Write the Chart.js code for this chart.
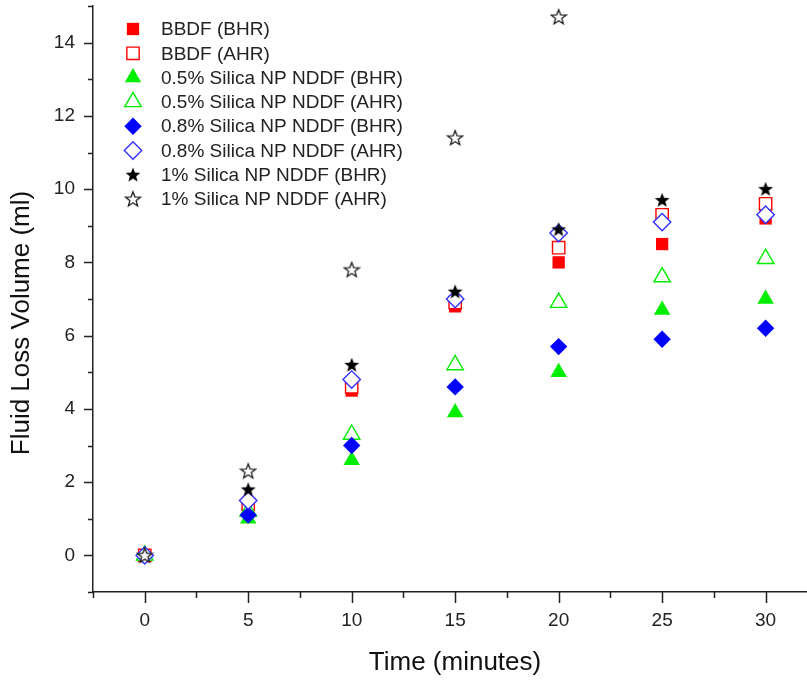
<!DOCTYPE html>
<html>
<head>
<meta charset="utf-8">
<script src="https://cdn.jsdelivr.net/npm/chart.js@4"></script>
<style>
  html, body { margin: 0; padding: 0; background: #fff; }
  #wrap { width: 807px; height: 680px; }
</style>
</head>
<body>
<div id="wrap"><canvas id="fluidChart" width="807" height="680"></canvas></div>
<script>
// data
const times = [0, 5, 10, 15, 20, 25, 30];
const bbdfBHR = [0, 1.3, 4.5, 6.8, 8.0, 8.5, 9.2];
const bbdfAHR = [0, 1.4, 4.6, 6.9, 8.4, 9.3, 9.6];
const silica05BHR = [0, 1.0, 2.6, 3.9, 5.0, 6.7, 7.0];
const silica05AHR = [0, 1.2, 3.3, 5.2, 6.9, 7.6, 8.1];
const silica08BHR = [0, 1.1, 3.0, 4.6, 5.7, 5.9, 6.2];
const silica08AHR = [0, 1.5, 4.8, 7.0, 8.8, 9.1, 9.3];
const silica1BHR = [0, 1.8, 5.2, 7.2, 8.9, 9.7, 10.0];
const silica1AHR = [0, 2.3, 7.8, 11.4, 14.7, null, null]; // 25 & 30 min off the top

const seriesLabels = [
  'BBDF (BHR)', 'BBDF (AHR)',
  '0.5% Silica NP NDDF (BHR)', '0.5% Silica NP NDDF (AHR)',
  '0.8% Silica NP NDDF (BHR)', '0.8% Silica NP NDDF (AHR)',
  '1% Silica NP NDDF (BHR)', '1% Silica NP NDDF (AHR)'
];
const xTitle = 'Time (minutes)';
const yTitle = 'Fluid Loss Volume (ml)';

// 5 point star as a little canvas (chart.js 'star' is an asterisk)
function makeStar(filled) {
  const c = document.createElement('canvas');
  c.width = 18; c.height = 18;
  const g = c.getContext('2d');
  const R = 7.8, r = 3.3;
  g.beginPath();
  for (let i = 0; i < 10; i++) {
    const a = -Math.PI / 2 + i * Math.PI / 5;
    const rr = i % 2 === 0 ? R : r;
    const px = 9 + Math.cos(a) * rr, py = 9.5 + Math.sin(a) * rr;
    if (i === 0) g.moveTo(px, py); else g.lineTo(px, py);
  }
  g.closePath();
  if (filled) {
    g.fillStyle = '#000';
    g.fill();
  } else {
    g.fillStyle = '#fff';
    g.fill();
    g.lineWidth = 1.3;
    g.strokeStyle = '#222';
    g.stroke();
  }
  return c;
}
const starFilled = makeStar(true);
const starOpen = makeStar(false);

function pts(vals) {
  return times.map((t, i) => ({ x: t, y: vals[i] }));
}

const styles = [
  { vals: bbdfBHR, shape: 'rect', color: '#ff0000', filled: true, r: 8.7 },
  { vals: bbdfAHR, shape: 'rect', color: '#ff0000', filled: false, r: 8.7 },
  { vals: silica05BHR, shape: 'triangle', color: '#00ee00', filled: true, r: 9.5 },
  { vals: silica05AHR, shape: 'triangle', color: '#00ee00', filled: false, r: 9.5 },
  { vals: silica08BHR, shape: 'rectRot', color: '#0000ff', filled: true, r: 8.7 },
  { vals: silica08AHR, shape: 'rectRot', color: '#3030ff', filled: false, r: 8.7 },
  { vals: silica1BHR, shape: starFilled, color: '#000', filled: true, r: 8 },
  { vals: silica1AHR, shape: starOpen, color: '#222', filled: false, r: 8 }
];

const datasets = styles.map((s, i) => ({
  label: seriesLabels[i],
  data: pts(s.vals),
  pointStyle: s.shape,
  pointRadius: s.r,
  pointHoverRadius: s.r,
  backgroundColor: s.filled ? s.color : '#fff',
  borderColor: s.color,
  borderWidth: s.filled ? 0 : 1.4,
  showLine: false,
  order: 8 - i   // later series sit on top
}));

const FONT = '"Liberation Sans", Arial, sans-serif';

// tick marks (major + minor), axis titles and the legend inside the plot
const extras = {
  id: 'extras',
  afterDraw(chart) {
    const ctx = chart.ctx;
    const xs = chart.scales.x, ys = chart.scales.y;
    const area = chart.chartArea;
    ctx.save();
    ctx.strokeStyle = '#222';
    ctx.lineWidth = 1.5;
    ctx.beginPath();
    for (let v = -2.5; v <= xs.max + 0.01; v += 2.5) {
      const px = Math.round(xs.getPixelForValue(v)) + 0.5;
      const len = v % 5 === 0 ? 11 : 6;
      ctx.moveTo(px, area.bottom);
      ctx.lineTo(px, area.bottom + len);
    }
    for (let v = ys.min; v <= ys.max; v += 1) {
      const py = Math.round(ys.getPixelForValue(v)) + 0.5;
      const len = v % 2 === 0 ? 9 : 5;
      ctx.moveTo(area.left, py);
      ctx.lineTo(area.left - len, py);
    }
    ctx.stroke();

    // axis titles (origin put them a bit off centre)
    ctx.fillStyle = '#111';
    ctx.font = '26px ' + FONT;
    ctx.textAlign = 'center';
    ctx.textBaseline = 'middle';
    ctx.fillText(xTitle, 455, 663);
    ctx.save();
    ctx.translate(22, 323);
    ctx.rotate(-Math.PI / 2);
    ctx.fillText(yTitle, 0, 0);
    ctx.restore();

    // legend
    ctx.textAlign = 'left';
    ctx.font = '19px ' + FONT;
    chart.data.datasets.forEach((ds, i) => {
      const y = 29 + i * 24.3;
      const x = 133;
      if (typeof ds.pointStyle === 'string') {
        ctx.fillStyle = ds.backgroundColor;
        ctx.strokeStyle = ds.borderColor;
        ctx.lineWidth = ds.borderWidth;
        Chart.helpers.drawPoint(ctx, {
          pointStyle: ds.pointStyle, radius: ds.pointRadius, rotation: 0,
          borderWidth: ds.borderWidth
        }, x, y);
      } else {
        const img = ds.pointStyle;
        ctx.drawImage(img, x - img.width / 2, y - img.height / 2);
      }
      ctx.fillStyle = '#222';
      ctx.fillText(ds.label, 161, y + 1);
    });
    ctx.restore();
  }
};

new Chart(document.getElementById('fluidChart').getContext('2d'), {
  type: 'scatter',
  data: { datasets: datasets },
  plugins: [extras],
  options: {
    responsive: false,
    devicePixelRatio: 1,
    animation: false,
    layout: { autoPadding: false, padding: { top: 6, right: 0, left: 0, bottom: 0 } },
    plugins: {
      legend: { display: false },
      tooltip: { enabled: false }
    },
    scales: {
      x: {
        type: 'linear',
        min: -2.5,
        max: 32,
        afterFit: s => { s.height = 88; s.paddingLeft = 0; s.paddingRight = 0; },
        grid: { display: false, drawTicks: true, tickLength: 11 },
        border: { display: true, color: '#222', width: 1.5 },
        ticks: {
          stepSize: 2.5,
          autoSkip: false,
          maxRotation: 0,
          padding: 6,
          color: '#222',
          font: { family: FONT, size: 19 },
          callback: v => (v % 5 === 0 ? String(v) : '')
        },
        title: { display: false }
      },
      y: {
        type: 'linear',
        min: -1,
        max: 15,
        afterFit: s => { s.width = 93; s.paddingTop = 0; s.paddingBottom = 0; },
        grid: { display: false, drawTicks: true, tickLength: 9 },
        border: { display: true, color: '#222', width: 1.5 },
        ticks: {
          stepSize: 1,
          autoSkip: false,
          padding: 9,
          color: '#222',
          font: { family: FONT, size: 19 },
          callback: v => (v % 2 === 0 ? String(v) : '')
        },
        title: { display: false }
      }
    }
  }
});
</script>
</body>
</html>
